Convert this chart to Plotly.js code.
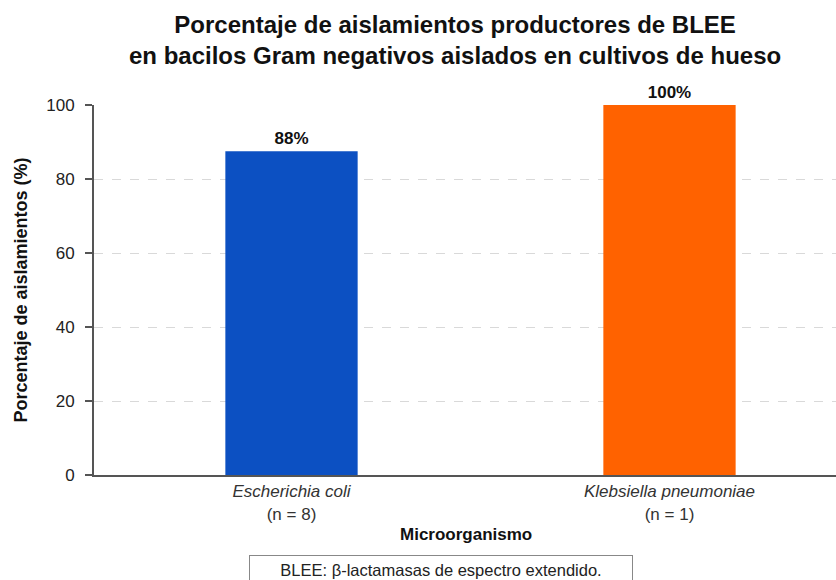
<!DOCTYPE html>
<html><head><meta charset="utf-8">
<script src="https://cdn.plot.ly/plotly-3.0.1.min.js"></script>
<style>html,body{margin:0;padding:0;background:#fff}#c{width:836px;height:580px}</style>
</head><body><div id="c"></div>
<script>
const organisms = ["Escherichia coli", "Klebsiella pneumoniae"];
const sampleSizes = [8, 1];
const percentages = [87.5, 100];
const barLabels = ["88%", "100%"];
const barColors = ["#0C50C2", "#FF6200"];
const yTicks = [0, 20, 40, 60, 80, 100];

const tickText = organisms.map((o, i) => "<i>" + o + "</i><br>(n = " + sampleSizes[i] + ")");
const FONT = "Liberation Sans, Arial, sans-serif";

const trace = {
  type: "bar",
  x: [0, 1],
  y: percentages,
  width: 0.35,
  marker: {color: barColors},
  text: barLabels,
  textposition: "outside",
  textfont: {family: FONT, size: 17, color: "#111", weight: "bold"},
  cliponaxis: false,
  hoverinfo: "skip"
};

const layout = {
  width: 836, height: 580,
  margin: {l: 94, r: 0, t: 105, b: 105},
  paper_bgcolor: "#fff", plot_bgcolor: "#fff",
  font: {family: FONT, color: "#222"},
  showlegend: false,
  xaxis: {
    range: [-0.5225, 1.4405],
    tickmode: "array", tickvals: [0, 1], ticktext: tickText,
    ticks: "", showgrid: false, zeroline: false,
    showline: true, linecolor: "#555", linewidth: 2,
    tickfont: {size: 17, color: "#333"},
    fixedrange: true
  },
  yaxis: {
    range: [0, 100],
    tickmode: "array", tickvals: yTicks,
    ticks: "outside", ticklen: 7, tickcolor: "#555", tickwidth: 1.5,
    ticklabelstandoff: 7,
    showline: true, linecolor: "#555", linewidth: 2,
    showgrid: true, gridcolor: "#d9d9d9", griddash: "dash", gridwidth: 1,
    zeroline: false,
    tickfont: {size: 17, color: "#222"},
    title: {text: "<b>Porcentaje de aislamientos (%)</b>", font: {size: 18, color: "#111"}, standoff: 14},
    fixedrange: true
  },
  annotations: [
    {text: "<b>Porcentaje de aislamientos productores de BLEE<br>en bacilos Gram negativos aislados en cultivos de hueso</b>",
     xref: "paper", yref: "paper", x: (455 - 94) / 742, y: 1.176, xanchor: "center", yanchor: "middle",
     showarrow: false, font: {size: 24, color: "#111"}},
    {text: "<b>Microorganismo</b>", xref: "paper", yref: "paper", x: 0.501, y: -0.162,
     xanchor: "center", yanchor: "middle", showarrow: false, font: {size: 17, color: "#111"}},
    {text: "BLEE: β-lactamasas de espectro extendido.", xref: "paper", yref: "paper",
     x: 0.4677, y: -0.2568, xanchor: "center", yanchor: "middle", showarrow: false,
     font: {size: 16.5, color: "#222"}, bordercolor: "#888", borderwidth: 1, borderpad: 5,
     bgcolor: "#fff", width: 372}
  ]
};

Plotly.newPlot("c", [trace], layout, {displayModeBar: false, staticPlot: true});
</script></body></html>
